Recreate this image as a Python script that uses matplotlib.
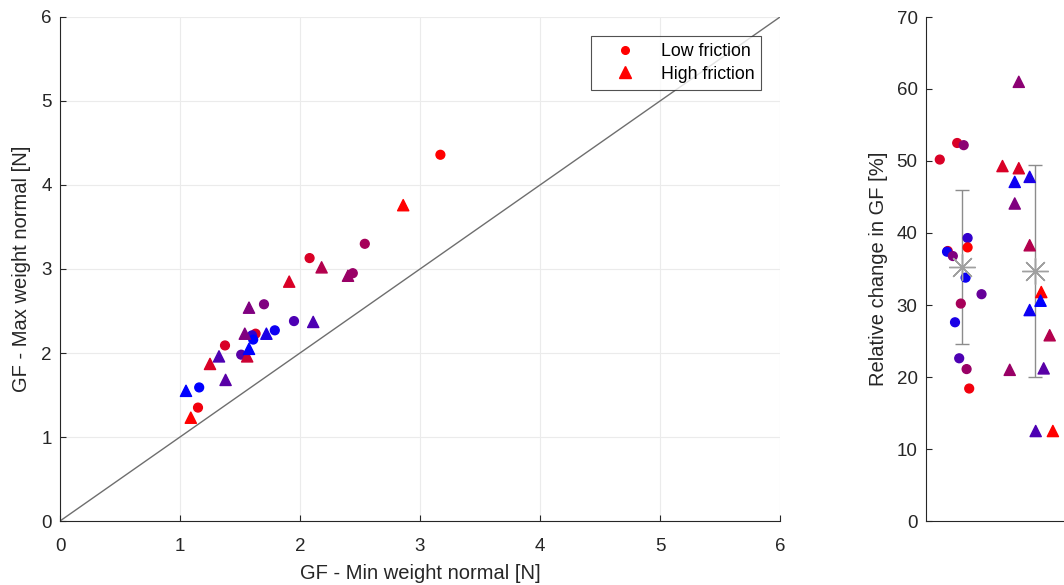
import matplotlib.pyplot as plt
from matplotlib.lines import Line2D
import numpy as np

plt.rcParams['font.family'] = ['Liberation Sans', 'DejaVu Sans']

# left panel: GF at min and max weight (N), shade = subject colour (0 blue -> 1 red)
low_min   = [1.15, 1.16, 1.375, 1.63, 1.60, 1.61, 1.51, 1.79, 1.95, 1.70, 2.08, 2.44, 2.54, 3.17]
low_max   = [1.35, 1.59, 2.09, 2.23, 2.21, 2.16, 1.98, 2.27, 2.38, 2.58, 3.13, 2.95, 3.30, 4.36]
low_shade = [0.95, 0.0, 0.85, 0.85, 0.2, 0.0, 0.35, 0.05, 0.3, 0.5, 0.85, 0.6, 0.65, 1.0]

high_min   = [1.09, 1.05, 1.38, 1.25, 1.325, 1.54, 1.56, 1.575, 1.72, 2.11, 1.575, 1.91, 2.18, 2.40, 2.86]
high_max   = [1.23, 1.55, 1.68, 1.87, 1.96, 2.23, 1.96, 2.05, 2.23, 2.37, 2.54, 2.85, 3.02, 2.92, 3.76]
high_shade = [1.0, 0.0, 0.35, 0.85, 0.3, 0.5, 0.8, 0.0, 0.1, 0.3, 0.5, 0.85, 0.7, 0.6, 1.0]

# right panel: relative change in GF (%), jitter around the category position
rel_low        = [50.2, 52.5, 52.2, 37.5, 37.4, 36.8, 39.3, 38.0, 33.8, 31.5, 30.2, 27.6, 22.6, 21.1, 18.4]
rel_low_jit    = [-0.31, -0.07, 0.02, -0.20, -0.21, -0.13, 0.074, 0.074, 0.046, 0.266, -0.02, -0.10, -0.042, 0.06, 0.096]
rel_low_shade  = [0.85, 0.85, 0.55, 0.85, 0.05, 0.5, 0.2, 1.0, 0.05, 0.4, 0.65, 0.1, 0.3, 0.6, 0.95]

rel_high       = [49.3, 49.0, 47.1, 47.8, 44.1, 61.0, 38.3, 31.8, 30.6, 29.3, 25.8, 21.0, 21.2, 12.5, 12.5]
rel_high_jit   = [-0.445, -0.22, -0.276, -0.07, -0.276, -0.22, -0.07, 0.09, 0.08, -0.07, 0.206, -0.345, 0.123, 0.013, 0.25]
rel_high_shade = [0.85, 0.85, 0.05, 0.1, 0.5, 0.55, 0.7, 1.0, 0.0, 0.05, 0.7, 0.6, 0.35, 0.3, 1.0]


def shade_col(s):
    return [(v, 0.0, 1.0 - v) for v in s]


txt = '#262626'
fig = plt.figure(figsize=(10.64, 5.85), dpi=100)

# ---- left: min vs max weight
ax = fig.add_axes([60/1064, 64/585, 720/1064, 504/585])
ax.plot([0, 6], [0, 6], color='#6e6e6e', lw=1.0, zorder=1)
ax.scatter(low_min, low_max, s=40, marker='o', c=shade_col(low_shade), zorder=3)
ax.scatter(high_min, high_max, s=65, marker='^', c=shade_col(high_shade), zorder=3)
ax.set_xlim(0, 6)
ax.set_ylim(0, 6)
ax.set_xticks(range(7))
ax.set_yticks(range(7))
ax.grid(True, color='#ebebeb', lw=0.8)
ax.set_axisbelow(True)
ax.set_xlabel('GF - Min weight normal [N]', fontsize=14.5, color=txt, labelpad=7)
ax.set_ylabel('GF - Max weight normal [N]', fontsize=14.5, color=txt, labelpad=7)
ax.tick_params(direction='in', labelsize=13.5, colors=txt, length=4)
ax.tick_params(axis='x', pad=12)
ax.tick_params(axis='y', pad=6)
for side in ['top', 'right']:
    ax.spines[side].set_visible(False)
for side in ['left', 'bottom']:
    ax.spines[side].set_color(txt)
    ax.spines[side].set_linewidth(0.8)

handles = [Line2D([], [], ls='none', marker='o', color='red', ms=5.5),
           Line2D([], [], ls='none', marker='^', color='red', ms=8)]
leg = ax.legend(handles, ['Low friction', 'High friction'], loc='upper right',
                bbox_to_anchor=(0.974, 0.962), borderaxespad=0, fontsize=12.8,
                frameon=True, fancybox=False, edgecolor='#262626', handletextpad=0.5,
                borderpad=0.4, labelspacing=0.3, handlelength=3.0)
leg.get_frame().set_linewidth(0.8)

# ---- right: relative change
ax2 = fig.add_axes([926/1064, 64/585, 145/1064, 504/585])
cats = [1, 2]
ax2.scatter(cats[0] + np.array(rel_low_jit), rel_low, s=40, marker='o',
            c=shade_col(rel_low_shade), zorder=3)
ax2.scatter(cats[1] + np.array(rel_high_jit), rel_high, s=65, marker='^',
            c=shade_col(rel_high_shade), zorder=3)
means = [np.mean(rel_low), np.mean(rel_high)]
sds = [np.std(rel_low, ddof=1), np.std(rel_high, ddof=1)]
ax2.errorbar(cats, means, yerr=sds, fmt='none', ecolor='#8c8c8c', elinewidth=1.0,
             capsize=5, capthick=1.0, zorder=2)
ax2.plot(cats, means, ls='none', marker=(8, 2, 0), ms=19, mew=1.0,
         color='#a0a0a0', zorder=4)
ax2.set_xlim(0.5, 2.5)
ax2.set_ylim(0, 70)
ax2.set_yticks(range(0, 80, 10))
ax2.set_xticks([])
ax2.set_ylabel('Relative change in GF [%]', fontsize=14.5, color=txt, labelpad=6)
ax2.tick_params(direction='in', labelsize=13.5, colors=txt, length=4, pad=6)
for side in ['top', 'right']:
    ax2.spines[side].set_visible(False)
for side in ['left', 'bottom']:
    ax2.spines[side].set_color(txt)
    ax2.spines[side].set_linewidth(0.8)

fig.savefig('out.png', dpi=100)
